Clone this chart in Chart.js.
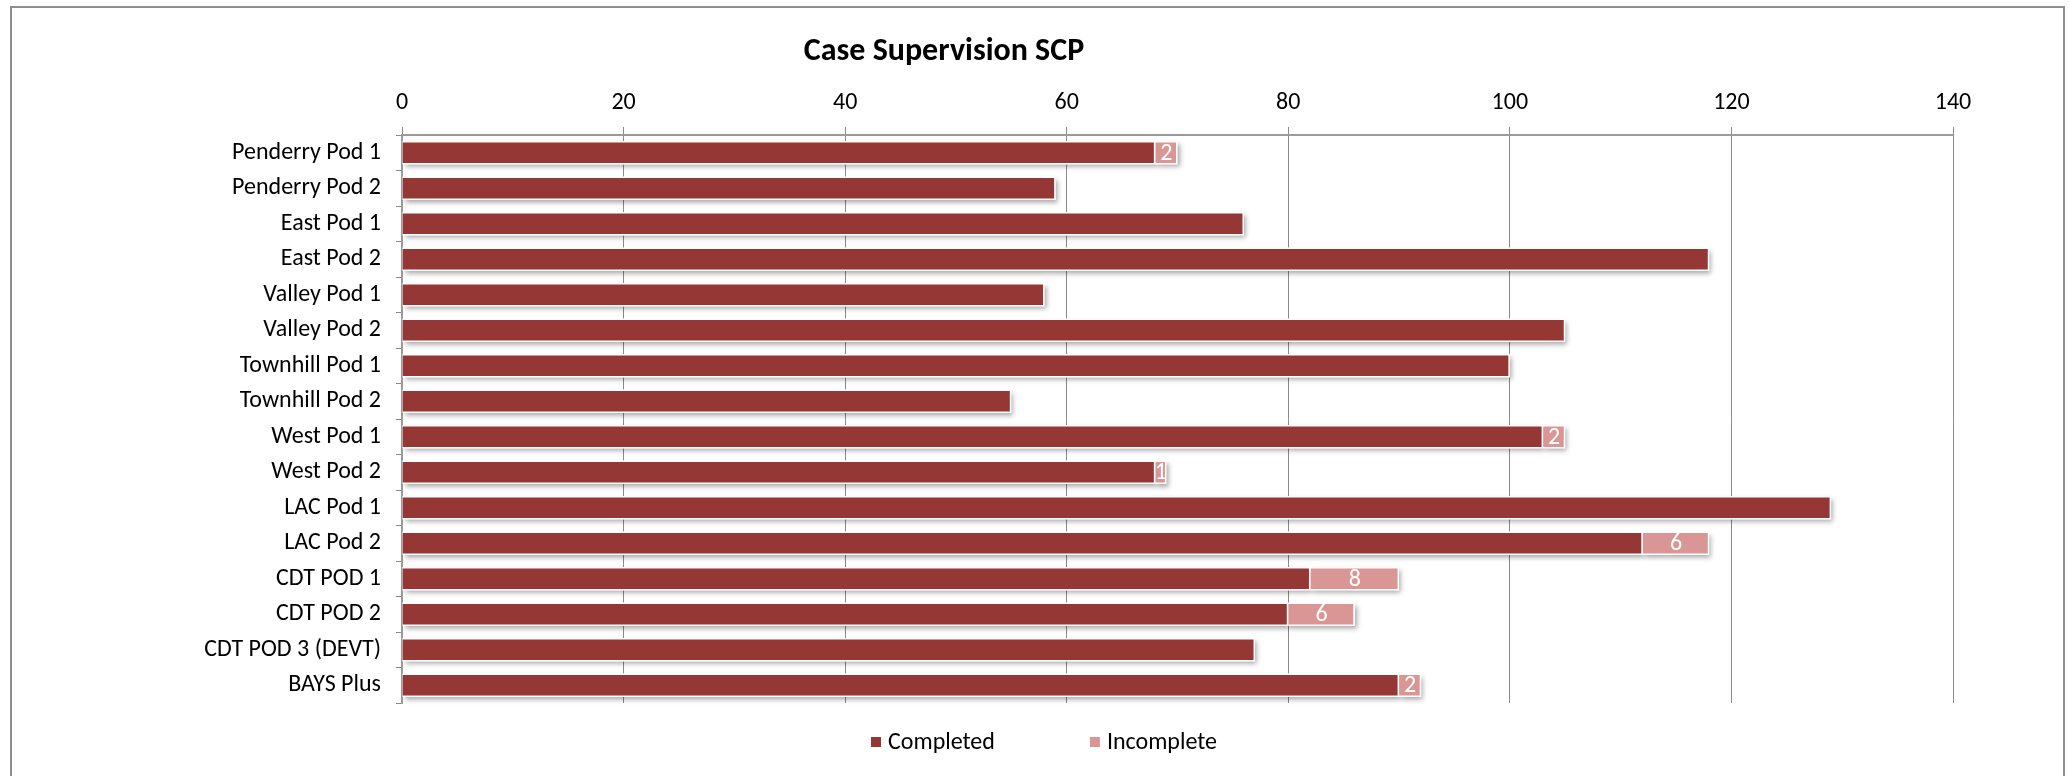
<!DOCTYPE html>
<html>
<head>
<meta charset="utf-8">
<title>Case Supervision SCP</title>
<script src="https://cdn.jsdelivr.net/npm/chart.js@4/dist/chart.umd.min.js"></script>
<style>
    html, body { margin: 0; padding: 0; background: #fff; overflow: hidden; }
    #wrap { position: relative; width: 2069px; height: 776px; }
    #frame {
        position: absolute; left: 10px; top: 6px; width: 2051px; height: 800px;
        border: 2px solid #8e8e8e; box-sizing: content-box; pointer-events: none;
    }
    canvas { position: absolute; left: 0; top: 0; }
</style>
</head>
<body>
<div id="wrap">
    <canvas id="scpChart" width="2069" height="776"></canvas>
    <div id="frame"></div>
</div>
<script>
/* Case Supervision SCP — stacked horizontal bars */

const categories = [
    'Penderry Pod 1', 'Penderry Pod 2', 'East Pod 1', 'East Pod 2',
    'Valley Pod 1', 'Valley Pod 2', 'Townhill Pod 1', 'Townhill Pod 2',
    'West Pod 1', 'West Pod 2', 'LAC Pod 1', 'LAC Pod 2',
    'CDT POD 1', 'CDT POD 2', 'CDT POD 3 (DEVT)', 'BAYS Plus',
];
const completed = [68, 59, 76, 118, 58, 105, 100, 55, 103, 68, 129, 112, 82, 80, 77, 90];
const incomplete = [2, 0, 0, 0, 0, 0, 0, 0, 2, 1, 0, 6, 8, 6, 0, 2];
const xTicks = [0, 20, 40, 60, 80, 100, 120, 140];

const FONT = 'Carlito, Calibri, Lato, sans-serif';
const GRID = '#8a8a8a';

// soft drop shadow under each bar, drawn before the bars themselves
const barShadow = {
    id: 'barShadow',
    beforeDatasetsDraw(chart) {
        const ctx = chart.ctx;
        ctx.save();
        ctx.shadowColor = 'rgba(0,0,0,0.35)';
        ctx.shadowBlur = 5;
        ctx.shadowOffsetX = 2;
        ctx.shadowOffsetY = 3;
        ctx.fillStyle = '#ffffff';
        chart.data.datasets.forEach((ds, i) => {
            chart.getDatasetMeta(i).data.forEach((bar, j) => {
                if (!ds.data[j]) return;
                const left = Math.min(bar.base, bar.x);
                ctx.fillRect(left, bar.y - bar.height / 2, Math.abs(bar.x - bar.base), bar.height);
            });
        });
        ctx.restore();
    },
};

// white value labels inside the Incomplete segments
const segmentLabels = {
    id: 'segmentLabels',
    afterDatasetsDraw(chart) {
        const ctx = chart.ctx;
        const meta = chart.getDatasetMeta(1);
        ctx.save();
        ctx.font = '24px ' + FONT;
        ctx.fillStyle = '#ffffff';
        ctx.textAlign = 'center';
        ctx.textBaseline = 'middle';
        meta.data.forEach((bar, j) => {
            const v = incomplete[j];
            if (!v) return;
            ctx.fillText(String(v), (bar.x + bar.base) / 2, bar.y + 1);
        });
        ctx.restore();
    },
};

// title and legend placed the way the original sheet had them
const titleAndLegend = {
    id: 'titleAndLegend',
    afterDraw(chart) {
        const ctx = chart.ctx;
        ctx.save();
        ctx.fillStyle = '#000000';
        ctx.textBaseline = 'middle';
        ctx.textAlign = 'center';
        ctx.font = 'bold 32px ' + FONT;
        ctx.fillText('Case Supervision SCP', 944, 52);

        ctx.font = '24px ' + FONT;
        ctx.textAlign = 'left';
        const items = chart.data.datasets.map(ds => ({ label: ds.label, color: ds.backgroundColor }));
        const box = 10, gapBox = 7, gapItem = 95;
        let total = 0;
        items.forEach((it, i) => {
            it.w = ctx.measureText(it.label).width;
            total += box + gapBox + it.w + (i ? gapItem : 0);
        });
        let x = 1044 - total / 2;
        const y = 742;
        items.forEach((it, i) => {
            if (i) x += gapItem;
            ctx.fillStyle = it.color;
            ctx.fillRect(x, y - box / 2, box, box);
            x += box + gapBox;
            ctx.fillStyle = '#000000';
            ctx.fillText(it.label, x, y + 1);
            x += it.w;
        });
        ctx.restore();
    },
};

new Chart(document.getElementById('scpChart'), {
    type: 'bar',
    data: {
        labels: categories,
        datasets: [
            {
                label: 'Completed',
                data: completed,
                backgroundColor: '#953735',
                borderColor: '#ffffff',
                borderWidth: 1.5,
                barPercentage: 0.66,
                categoryPercentage: 1,
            },
            {
                label: 'Incomplete',
                data: incomplete,
                backgroundColor: '#d99694',
                borderColor: '#ffffff',
                borderWidth: 1.5,
                barPercentage: 0.66,
                categoryPercentage: 1,
            },
        ],
    },
    options: {
        indexAxis: 'y',
        responsive: false,
        animation: false,
        devicePixelRatio: 1,
        layout: { padding: { left: 0, top: 0, right: 116, bottom: 73 } },
        plugins: {
            legend: { display: false },
            title: { display: false },
            tooltip: { enabled: false },
        },
        scales: {
            x: {
                position: 'top',
                stacked: true,
                min: 0,
                max: 140,
                afterFit(scale) { scale.height = 135; },
                afterBuildTicks(scale) { scale.ticks = xTicks.map(v => ({ value: v })); },
                ticks: {
                    color: '#000000',
                    font: { family: FONT, size: 24 },
                    padding: 10,
                },
                grid: { color: GRID, lineWidth: 1, tickLength: 8, tickColor: GRID },
                border: { color: '#9a9a9a', width: 2 },
            },
            y: {
                stacked: true,
                afterFit(scale) { scale.width = 402; },
                ticks: {
                    color: '#000000',
                    font: { family: FONT, size: 24 },
                    padding: 15,
                },
                grid: { drawOnChartArea: false, tickLength: 6, color: GRID, offset: true },
                border: { color: '#9a9a9a', width: 2 },
            },
        },
    },
    plugins: [barShadow, segmentLabels, titleAndLegend],
});
</script>
</body>
</html>
